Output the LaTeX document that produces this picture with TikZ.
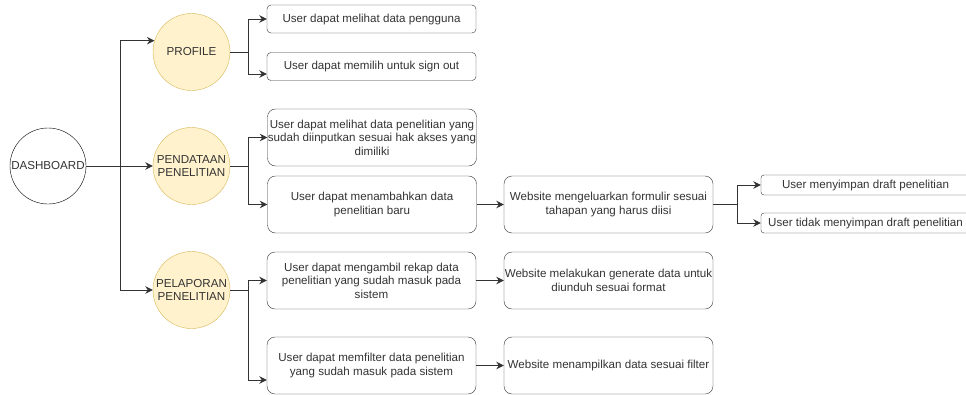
\documentclass[tikz,border=0pt]{standalone}
\usepackage{fontspec}
\setmainfont{Liberation Sans}
\usetikzlibrary{arrows.meta, positioning}
\definecolor{dline}{HTML}{333333}
\definecolor{dyellow}{HTML}{FFF2CC}
\definecolor{dgold}{HTML}{D6B656}
\tikzset{
  hub/.style={circle, draw=black, fill=white, minimum size=76pt, inner sep=0pt},
  menu/.style={circle, draw=dgold, fill=dyellow, minimum size=77pt, inner sep=0pt, align=center},
  ubox/.style={draw=dline, rounded corners=8pt, minimum width=209pt, minimum height=57pt,
               inner sep=0pt, align=center},
  sbox/.style={draw=dline, rounded corners=4pt, minimum width=209pt, minimum height=28pt,
               inner sep=0pt, align=center},
  tbox/.style={draw=dline, rounded corners=3pt, minimum width=209pt, minimum height=20pt,
               inner sep=0pt, align=center},
  arr/.style={-{Stealth[length=7.5pt,width=7.5pt]}, line width=1pt, dline},
  ln/.style={line width=1pt, dline},
}

\begin{document}
\begin{tikzpicture}[x=1pt, y=-1pt, every node/.style={font=\fontsize{11.6}{13.4}\selectfont, text=dline}]
  \useasboundingbox (0,0) rectangle (966,394);

  % main menu
  \node[hub] (dashboard) at (48,166) {DASHBOARD};
  \node[menu] (profile) at (191.5,52) {PROFILE};
  \node[menu] (pendataan) at (191.5,166) {PENDATAAN\\PENELITIAN};
  \node[menu] (pelaporan) at (191.5,290) {PELAPORAN\\PENELITIAN};

  % profile
  \node[sbox] (u1) at (371.5,19) {User dapat melihat data pengguna};
  \node[sbox] (u2) at (371.5,66.5) {User dapat memilih untuk sign out};

  % pendataan
  \node[ubox] (u3) at (372,137.5)
    {User dapat melihat data penelitian yang\\sudah diinputkan sesuai hak akses yang\\dimiliki};
  \node[ubox] (u4) at (372,204.5) {User dapat menambahkan data\\penelitian baru};
  \node[ubox] (w1) at (608.5,204.5) {Website mengeluarkan formulir sesuai\\tahapan yang harus diisi};
  \node[tbox] (d1) at (865.5,185) {User menyimpan draft penelitian};
  \node[tbox] (d2) at (865.5,223) {User tidak menyimpan draft penelitian};

  % pelaporan
  \node[ubox] (u5) at (371.5,280.5)
    {User dapat mengambil rekap data\\penelitian yang sudah masuk pada\\sistem};
  \node[ubox] (u6) at (371.5,365.5) {User dapat memfilter data penelitian\\yang sudah masuk pada sistem};
  \node[ubox] (w2) at (608.5,280.5) {Website melakukan generate data untuk\\diunduh sesuai format};
  \node[ubox] (w3) at (608.5,365.5) {Website menampilkan data sesuai filter};

  % connectors
  \coordinate (jd) at (120,166);
  \coordinate (jp) at (248,52);
  \coordinate (jn) at (248,166);
  \coordinate (jl) at (248,290);
  \coordinate (jw) at (737,204.5);

  \draw[arr] (dashboard) -- (pendataan);
  \draw[arr] (jd) |- (profile.163);
  \draw[arr] (jd) |- (pelaporan);

  \draw[ln] (profile) -- (jp);
  \draw[arr] (jp) |- (u1);
  \draw[arr] (jp) |- ([yshift=-7.5pt]u2.west);

  \draw[ln] (pendataan) -- (jn);
  \draw[arr] (jn) |- (u3);
  \draw[arr] (jn) |- (u4);
  \draw[arr] (u4) -- (w1);
  \draw[ln] (w1) -- (jw);
  \draw[arr] (jw) |- (d1);
  \draw[arr] (jw) |- (d2);

  \draw[ln] (pelaporan) -- (jl);
  \draw[arr] (jl) |- (u5);
  \draw[arr] (jl) |- ([yshift=-14.5pt]u6.west);
  \draw[arr] (u5) -- (w2);
  \draw[arr] (u6) -- (w3);
\end{tikzpicture}
\end{document}
